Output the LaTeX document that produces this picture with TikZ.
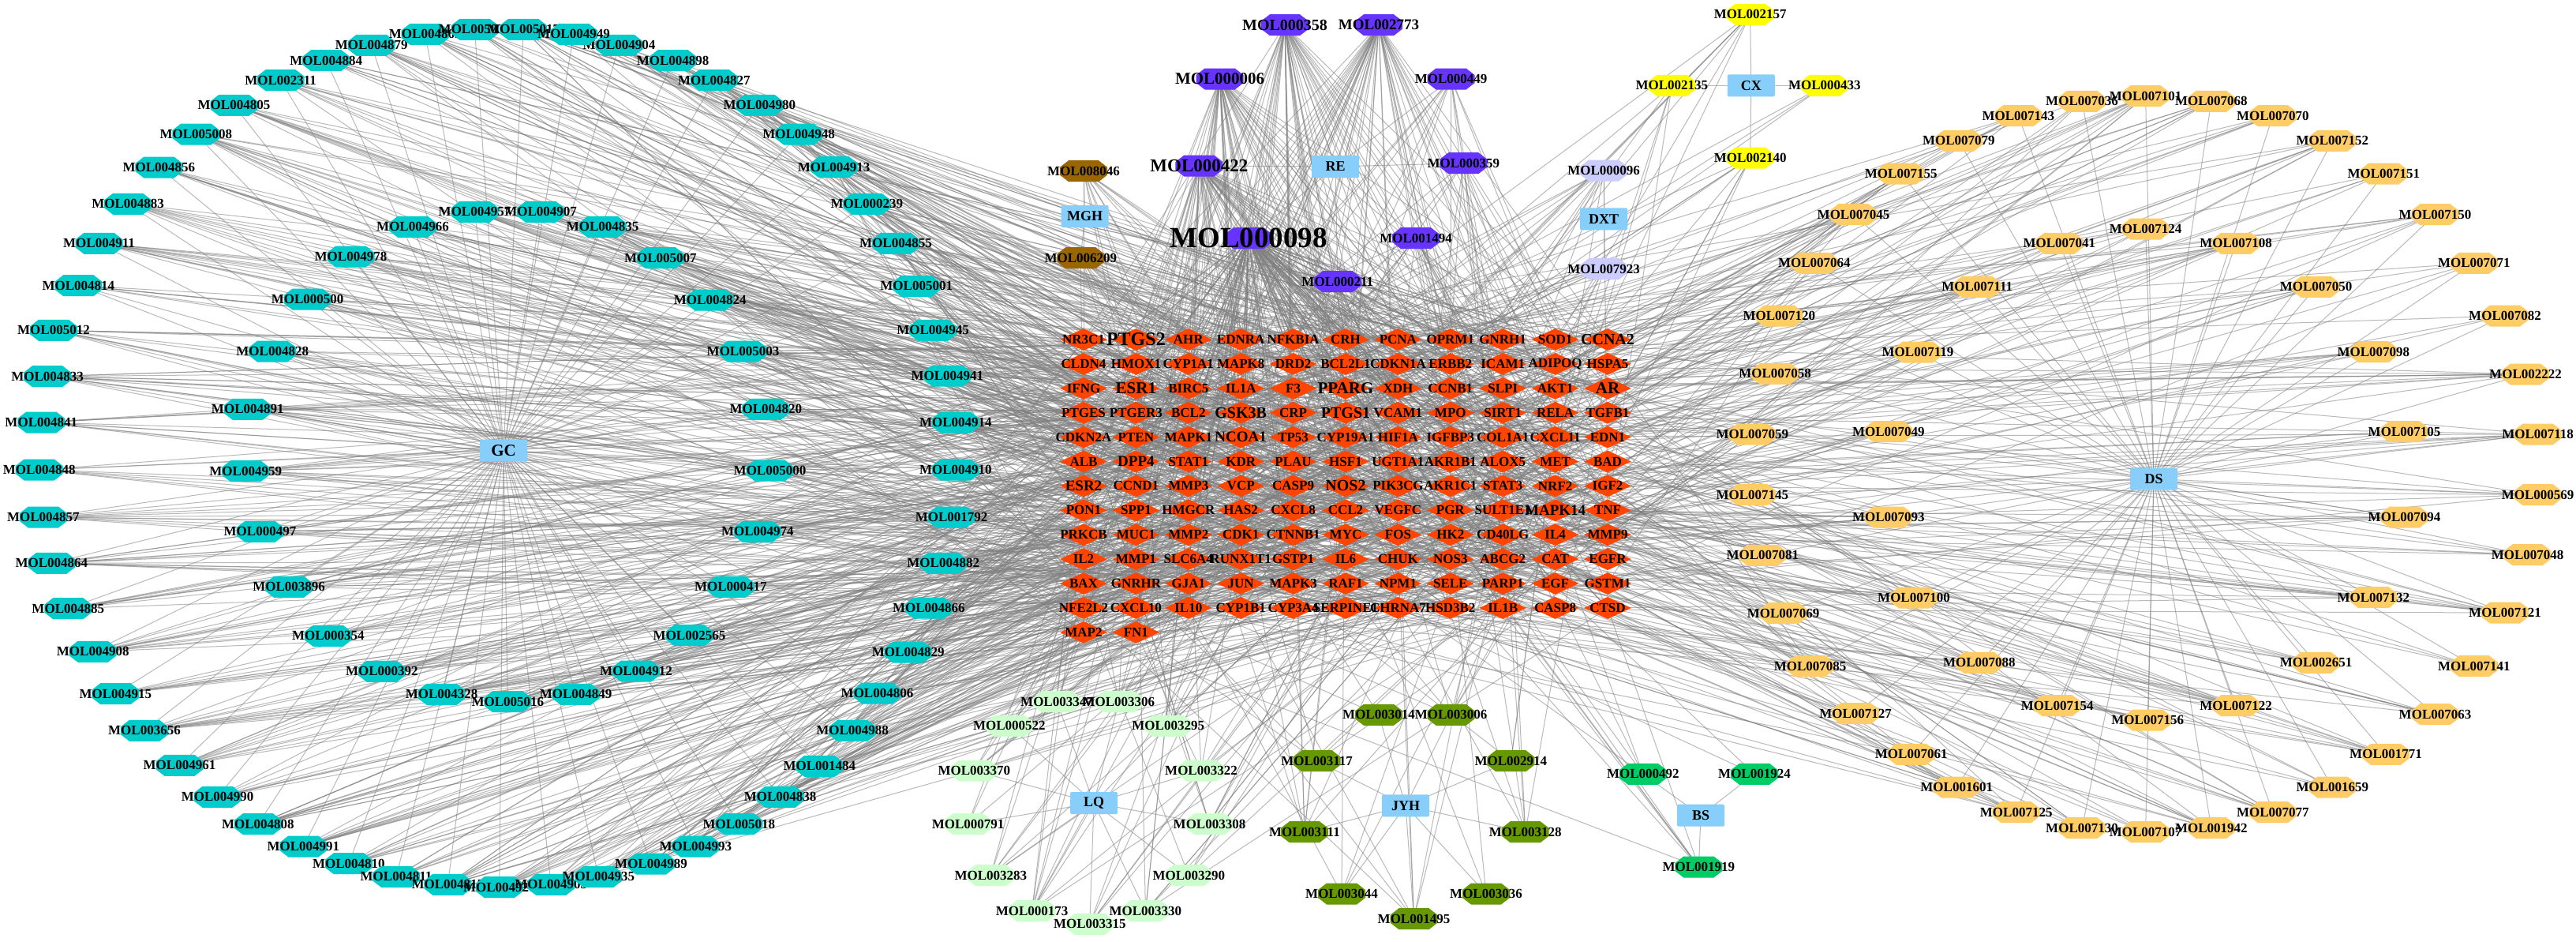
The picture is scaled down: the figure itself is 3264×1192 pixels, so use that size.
\documentclass[tikz,border=0pt]{standalone}
\usepackage{fontspec}
\setmainfont{Liberation Serif}
\usepackage{intcalc}
\usetikzlibrary{shapes.geometric}
\pgfdeclarelayer{bg}
\pgfdeclarelayer{wires}
\pgfsetlayers{bg,wires,main}
\definecolor{cyc}{RGB}{0,204,204}
\definecolor{puc}{RGB}{102,51,255}
\definecolor{brc}{RGB}{153,102,0}
\definecolor{yec}{RGB}{255,255,0}
\definecolor{lvc}{RGB}{204,204,255}
\definecolor{orc}{RGB}{255,204,102}
\definecolor{lgc}{RGB}{204,255,204}
\definecolor{olc}{RGB}{102,153,0}
\definecolor{gnc}{RGB}{0,204,102}
\definecolor{bxc}{RGB}{135,206,250}
\definecolor{dmc}{RGB}{255,69,0}
\definecolor{wgc}{RGB}{128,128,128}
\tikzset{
  lnk/.style={draw=wgc, line width=1, opacity=0.55},
  molshape/.style={rectangle, minimum width=60, minimum height=27, inner sep=0},
  mollab/.style={inner sep=0, text=black},
  herb/.style={rectangle, fill=bxc, rounded corners=2, minimum width=60, minimum height=28, inner sep=0, font=\fontsize{18}{18}\selectfont\bfseries},
  tgt/.style={diamond, fill=dmc, minimum width=60, minimum height=28, inner sep=0},
  tlab/.style={inner sep=0, text=black}
}
\newcommand\mo[5][17]{%
  \fill[#5] ({#3-30},{#4-5}) -- ({#3-19},{#4-13.5}) -- ({#3+19},{#4-13.5}) -- ({#3+30},{#4-5})
    -- ({#3+30},{#4+5}) -- ({#3+19},{#4+13.5}) -- ({#3-19},{#4+13.5}) -- ({#3-30},{#4+5}) -- cycle;
  \node[molshape] (#2) at (#3,#4) {};
  \node[mollab, font=\fontsize{#1}{#1}\selectfont\bfseries] (#2-l) at (#3,#4) {#2};
}
\newcommand\wire[3]{%
  \edef\wlist{#1}%
  \foreach \m [count=\n] in \wlist {%
    \edef\k{\number\numexpr #2+\intcalcMod{\number\numexpr\n*5+#3\relax}{7}\relax}%
    \foreach \i in {1,...,\k} {%
      \edef\r{\intcalcMod{\number\numexpr \n*97+\i*\i*13+\i*\n*7+\i*41+#3*31\relax}{134}}%
      \draw[lnk] (\m.center) -- (t\r.center);
    }%
  }%
}
\def\Tlist{NR3C1/17,PTGS2/24,AHR/17,EDNRA/17,NFKBIA/17,CRH/17,PCNA/17,OPRM1/17,GNRH1/17,SOD1/17,CCNA2/20,
CLDN4/17,HMOX1/17,CYP1A1/17,MAPK8/17,DRD2/17,BCL2L1/17,CDKN1A/17,ERBB2/17,ICAM1/17,ADIPOQ/17,HSPA5/17,
IFNG/17,ESR1/21,BIRC5/17,IL1A/17,F3/17,PPARG/21,XDH/17,CCNB1/17,SLPI/17,AKT1/17,AR/21,
PTGES/17,PTGER3/17,BCL2/17,GSK3B/20,CRP/17,PTGS1/20,VCAM1/17,MPO/17,SIRT1/17,RELA/17,TGFB1/17,
CDKN2A/17,PTEN/17,MAPK1/17,NCOA1/19,TP53/17,CYP19A1/17,HIF1A/17,IGFBP3/17,COL1A1/17,CXCL11/17,EDN1/17,
ALB/17,DPP4/19,STAT1/17,KDR/17,PLAU/17,HSF1/17,UGT1A1/17,AKR1B1/17,ALOX5/17,MET/17,BAD/17,
ESR2/19,CCND1/17,MMP3/17,VCP/17,CASP9/17,NOS2/20,PIK3CG/17,AKR1C1/17,STAT3/17,NRF2/17,IGF2/17,
PON1/17,SPP1/17,HMGCR/17,HAS2/17,CXCL8/17,CCL2/17,VEGFC/17,PGR/17,SULT1E1/17,MAPK14/19,TNF/17,
PRKCB/17,MUC1/17,MMP2/17,CDK1/17,CTNNB1/17,MYC/17,FOS/17,HK2/17,CD40LG/17,IL4/17,MMP9/17,
IL2/17,MMP1/17,SLC6A4/17,RUNX1T1/17,GSTP1/17,IL6/17,CHUK/17,NOS3/17,ABCG2/17,CAT/17,EGFR/17,
BAX/17,GNRHR/17,GJA1/17,JUN/17,MAPK3/17,RAF1/17,NPM1/17,SELE/17,PARP1/17,EGF/17,GSTM1/17,
NFE2L2/17,CXCL10/17,IL10/17,CYP1B1/17,CYP3A4/17,SERPINE1/17,CHRNA7/17,HSD3B2/17,IL1B/17,CASP8/17,CTSD/17,
MAP2/17,FN1/17}
\def\GClist{MOL004814,MOL004911,MOL004883,MOL004856,MOL005008,MOL004805,MOL002311,MOL004884,MOL004879,MOL004865,MOL005030,MOL005017,MOL004904,MOL004949,MOL004898,MOL004827,MOL004980,MOL004948,MOL004913,MOL000239,MOL004855,MOL005001,MOL004957,MOL004907,MOL004966,MOL004835,MOL004978,MOL000500,MOL005007,MOL004824,MOL005012,MOL004828,MOL004833,MOL004891,MOL004841,MOL004848,MOL004959,MOL004857,MOL000497,MOL004864,MOL003896,MOL004885,MOL000354,MOL004908,MOL000392,MOL004915,MOL004328,MOL005016,MOL004849,MOL004912,MOL003656,MOL004961,MOL004990,MOL004808,MOL004991,MOL004810,MOL004811,MOL004815,MOL004920,MOL004903,MOL004935,MOL004989,MOL004993,MOL005018,MOL004838,MOL001484,MOL004988,MOL004806,MOL004829,MOL002565,MOL004945,MOL005003,MOL004941,MOL004820,MOL004914,MOL005000,MOL004910,MOL001792,MOL004974,MOL004882,MOL000417,MOL004866}
\def\DSlist{MOL007143,MOL007036,MOL007101,MOL007068,MOL007070,MOL007079,MOL007152,MOL007155,MOL007151,MOL007045,MOL007150,MOL007124,MOL007041,MOL007108,MOL007064,MOL007071,MOL007111,MOL007050,MOL007120,MOL007082,MOL007119,MOL007098,MOL007058,MOL002222,MOL007059,MOL007049,MOL007105,MOL007118,MOL000569,MOL007145,MOL007093,MOL007094,MOL007048,MOL007081,MOL007100,MOL007132,MOL007069,MOL007121,MOL007088,MOL002651,MOL007141,MOL007085,MOL007154,MOL007156,MOL007122,MOL007063,MOL007127,MOL007061,MOL001771,MOL001601,MOL001659,MOL007125,MOL007077,MOL007130,MOL007107,MOL001942}
\def\LQlist{MOL003347,MOL003306,MOL000522,MOL003295,MOL003370,MOL003322,MOL000791,MOL003308,MOL003283,MOL003290,MOL000173,MOL003330,MOL003315}
\def\JYHlist{MOL003014,MOL003006,MOL003117,MOL002914,MOL003111,MOL003128,MOL003044,MOL003036,MOL001495}
\def\BSlist{MOL000492,MOL001924,MOL001919}
\def\CXlist{MOL002157,MOL002135,MOL000433,MOL002140}
\def\DXTlist{MOL000096,MOL007923}
\def\MGHlist{MOL008046,MOL006209}
\def\RElist{MOL000006,MOL000422,MOL000098,MOL000358,MOL002773,MOL000449,MOL000359,MOL001494,MOL000211}
\def\REsmall{MOL000449,MOL000359,MOL001494,MOL000211}
\begin{document}
\begin{tikzpicture}[x=1pt,y=-1pt]
\begin{pgfonlayer}{bg}
\fill[white] (0,0) rectangle (3264,1192);
\end{pgfonlayer}
\useasboundingbox (0,0) rectangle (3264,1192);
% targets
\foreach \nm/\sz [count=\ti from 0] in \Tlist {
  \pgfmathtruncatemacro\row{floor(\ti/11)}
  \pgfmathtruncatemacro\col{\ti-11*\row}
  \node[tgt] (t\ti) at ({1373+66.4*\col},{430+30.9*\row}) {};
}
\foreach \nm/\sz [count=\ti from 0] in \Tlist {
  \node[tlab, font=\fontsize{\sz}{\sz}\selectfont\bfseries] (t\ti-l) at (t\ti) {\nm};
}
% herb boxes
\node[herb, font=\fontsize{21}{21}\selectfont\bfseries] (GC) at (638,570.7) {GC};
\node[herb] (MGH) at (1374.6,274) {MGH};
\node[herb] (RE) at (1692.1,211) {RE};
\node[herb] (DXT) at (2032.1,277.3) {DXT};
\node[herb] (CX) at (2218.8,108.3) {CX};
\node[herb] (DS) at (2729,606.7) {DS};
\node[herb] (LQ) at (1386,1017) {LQ};
\node[herb] (JYH) at (1781,1020.3) {JYH};
\node[herb] (BS) at (2155,1032.7) {BS};
% GC compounds
\mo{MOL004814}{99.4}{361.7}{cyc}
\mo{MOL004911}{125.5}{308.3}{cyc}
\mo{MOL004883}{162.1}{258.3}{cyc}
\mo{MOL004856}{201.4}{212}{cyc}
\mo{MOL005008}{248.4}{170}{cyc}
\mo{MOL004805}{296.5}{133.3}{cyc}
\mo{MOL002311}{355.6}{101.7}{cyc}
\mo{MOL004884}{413.2}{76.7}{cyc}
\mo{MOL004879}{470.7}{57.3}{cyc}
\mo{MOL004865}{538.7}{43.3}{cyc}
\mo{MOL005030}{601.5}{37.3}{cyc}
\mo{MOL005017}{663.2}{37.3}{cyc}
\mo{MOL004904}{784.5}{57.3}{cyc}
\mo{MOL004949}{727}{43.3}{cyc}
\mo{MOL004898}{852.6}{76.7}{cyc}
\mo{MOL004827}{904.9}{101.7}{cyc}
\mo{MOL004980}{962.4}{133.3}{cyc}
\mo{MOL004948}{1012.1}{170}{cyc}
\mo{MOL004913}{1056.6}{211.7}{cyc}
\mo{MOL000239}{1098.4}{258.3}{cyc}
\mo{MOL004855}{1135}{308.3}{cyc}
\mo{MOL005001}{1161.2}{362.3}{cyc}
\mo{MOL004957}{601.5}{268.3}{cyc}
\mo{MOL004907}{685.1}{268.3}{cyc}
\mo{MOL004966}{523}{287.3}{cyc}
\mo{MOL004835}{763.6}{287.3}{cyc}
\mo{MOL004978}{444.5}{325}{cyc}
\mo{MOL000500}{389.6}{379}{cyc}
\mo{MOL005007}{836.9}{326.7}{cyc}
\mo{MOL004824}{899.7}{380}{cyc}
\mo{MOL005012}{68}{418.3}{cyc}
\mo{MOL004828}{345.2}{445}{cyc}
\mo{MOL004833}{60.1}{476.7}{cyc}
\mo{MOL004891}{313.8}{518.3}{cyc}
\mo{MOL004841}{52.3}{535}{cyc}
\mo{MOL004848}{49.7}{595}{cyc}
\mo{MOL004959}{311.2}{596.7}{cyc}
\mo{MOL004857}{54.9}{655}{cyc}
\mo{MOL000497}{329.5}{673.3}{cyc}
\mo{MOL004864}{65.4}{713.3}{cyc}
\mo{MOL003896}{366.1}{743.3}{cyc}
\mo{MOL004885}{86.3}{770.7}{cyc}
\mo{MOL000354}{415.8}{805.3}{cyc}
\mo{MOL004908}{117.7}{825.3}{cyc}
\mo{MOL000392}{483.8}{850.3}{cyc}
\mo{MOL004915}{146.4}{878.7}{cyc}
\mo{MOL004328}{559.6}{879.3}{cyc}
\mo{MOL005016}{643.3}{888.7}{cyc}
\mo{MOL004849}{729.6}{879.3}{cyc}
\mo{MOL004912}{806}{850}{cyc}
\mo{MOL003656}{183}{925.3}{cyc}
\mo{MOL004961}{227.5}{969.3}{cyc}
\mo{MOL004990}{275.6}{1009.3}{cyc}
\mo{MOL004808}{326.9}{1043.7}{cyc}
\mo{MOL004991}{384.4}{1072}{cyc}
\mo{MOL004810}{441.9}{1093.7}{cyc}
\mo{MOL004811}{502}{1110.3}{cyc}
\mo{MOL004815}{567.4}{1120.3}{cyc}
\mo{MOL004920}{632.8}{1123.7}{cyc}
\mo{MOL004903}{698.2}{1120.3}{cyc}
\mo{MOL004935}{758.4}{1110.3}{cyc}
\mo{MOL004989}{825}{1094}{cyc}
\mo{MOL004993}{881.4}{1072}{cyc}
\mo{MOL005018}{936.3}{1043.7}{cyc}
\mo{MOL004838}{988.6}{1009.3}{cyc}
\mo{MOL001484}{1038.3}{970.3}{cyc}
\mo{MOL004988}{1080.1}{925.3}{cyc}
\mo{MOL004806}{1111.5}{878}{cyc}
\mo{MOL004829}{1150.7}{826}{cyc}
\mo{MOL002565}{873.5}{804.7}{cyc}
\mo{MOL004945}{1182.1}{418.3}{cyc}
\mo{MOL005003}{941.5}{445}{cyc}
\mo{MOL004941}{1200.4}{476}{cyc}
\mo{MOL004820}{970.3}{518.3}{cyc}
\mo{MOL004914}{1210.9}{535}{cyc}
\mo{MOL005000}{975.5}{596}{cyc}
\mo{MOL004910}{1210.9}{595}{cyc}
\mo{MOL001792}{1205.6}{655}{cyc}
\mo{MOL004974}{959.8}{673.3}{cyc}
\mo{MOL004882}{1195.2}{713.3}{cyc}
\mo{MOL000417}{925.8}{743.3}{cyc}
\mo{MOL004866}{1176.9}{770}{cyc}
% MGH, RE
\mo{MOL008046}{1373}{216.7}{brc}
\mo{MOL006209}{1369.3}{326.7}{brc}
\mo[21]{MOL000006}{1545.6}{100}{puc}
\mo[23]{MOL000422}{1519.4}{210}{puc}
\mo[20]{MOL000358}{1628}{31.7}{puc}
\mo[19]{MOL002773}{1747}{31.7}{puc}
\mo{MOL000449}{1838.6}{100}{puc}
\mo{MOL000359}{1854.3}{206.7}{puc}
\mo{MOL001494}{1794.1}{301.7}{puc}
\mo{MOL000211}{1694.8}{356.7}{puc}
\mo[37]{MOL000098}{1582}{301.7}{puc}
% CX, DXT
\mo{MOL002157}{2217.7}{18.3}{yec}
\mo{MOL002135}{2118.4}{108.3}{yec}
\mo{MOL000433}{2311.9}{108.3}{yec}
\mo{MOL002140}{2217.7}{200}{yec}
\mo{MOL000096}{2032.1}{216}{lvc}
\mo{MOL007923}{2032.1}{340.7}{lvc}
% DS
\mo{MOL007143}{2557.3}{146.7}{orc}
\mo{MOL007036}{2638}{128.3}{orc}
\mo{MOL007068}{2801.9}{128.3}{orc}
\mo{MOL007101}{2718.6}{121.7}{orc}
\mo{MOL007070}{2879.9}{146.7}{orc}
\mo{MOL007079}{2481.8}{178.3}{orc}
\mo{MOL007152}{2955.4}{178.3}{orc}
\mo{MOL007155}{2408.7}{220}{orc}
\mo{MOL007151}{3020.4}{220}{orc}
\mo{MOL007045}{2348.5}{271.7}{orc}
\mo{MOL007150}{3085.5}{271.7}{orc}
\mo{MOL007124}{2718.6}{290}{orc}
\mo{MOL007041}{2609.3}{308.3}{orc}
\mo{MOL007108}{2833.1}{308.3}{orc}
\mo{MOL007064}{2298.8}{333.3}{orc}
\mo{MOL007071}{3134.9}{333.3}{orc}
\mo{MOL007111}{2505.2}{363.3}{orc}
\mo{MOL007050}{2934.6}{363.3}{orc}
\mo{MOL007120}{2254.4}{400}{orc}
\mo{MOL007082}{3174}{400}{orc}
\mo{MOL007119}{2430}{446}{orc}
\mo{MOL007098}{3007.4}{445.7}{orc}
\mo{MOL007058}{2249.1}{473.3}{orc}
\mo{MOL002222}{3200}{474}{orc}
\mo{MOL007059}{2220.4}{550}{orc}
\mo{MOL007049}{2392.9}{546.7}{orc}
\mo{MOL007105}{3046.5}{546.7}{orc}
\mo{MOL007118}{3215.6}{550}{orc}
\mo{MOL000569}{3215.6}{626.7}{orc}
\mo{MOL007145}{2220.4}{626.7}{orc}
\mo{MOL007093}{2392.9}{655}{orc}
\mo{MOL007094}{3046.5}{655}{orc}
\mo{MOL007048}{3202.6}{702.7}{orc}
\mo{MOL007081}{2233.4}{703.3}{orc}
\mo{MOL007100}{2425}{757}{orc}
\mo{MOL007132}{3007.4}{756.7}{orc}
\mo{MOL007069}{2259.6}{776.7}{orc}
\mo{MOL007121}{3174}{776}{orc}
\mo{MOL007088}{2507.8}{839.3}{orc}
\mo{MOL002651}{2934.6}{839.3}{orc}
\mo{MOL007141}{3134.9}{843.7}{orc}
\mo{MOL007085}{2293.6}{843.7}{orc}
\mo{MOL007154}{2606.7}{893.7}{orc}
\mo{MOL007156}{2721.2}{912}{orc}
\mo{MOL007122}{2833.1}{893.7}{orc}
\mo{MOL007063}{3085.5}{904.7}{orc}
\mo{MOL007127}{2351.1}{903.7}{orc}
\mo{MOL007061}{2421.7}{955.3}{orc}
\mo{MOL001771}{3023}{955.3}{orc}
\mo{MOL001601}{2479.2}{997}{orc}
\mo{MOL001659}{2955.4}{997}{orc}
\mo{MOL007125}{2554.7}{1028.7}{orc}
\mo{MOL007077}{2879.9}{1028.7}{orc}
\mo{MOL007130}{2638}{1048.7}{orc}
\mo{MOL007107}{2718.6}{1053.7}{orc}
\mo{MOL001942}{2801.9}{1048.7}{orc}
% LQ
\mo{MOL003347}{1339}{888.7}{lgc}
\mo{MOL003306}{1417.4}{888.7}{lgc}
\mo{MOL000522}{1278.9}{919.3}{lgc}
\mo{MOL003295}{1480.2}{919.3}{lgc}
\mo{MOL003370}{1234.4}{976}{lgc}
\mo{MOL003322}{1522}{976}{lgc}
\mo{MOL000791}{1226.6}{1043.7}{lgc}
\mo{MOL003308}{1532.5}{1043.7}{lgc}
\mo{MOL003283}{1255.3}{1108.7}{lgc}
\mo{MOL003290}{1506.3}{1108.7}{lgc}
\mo{MOL000173}{1307.6}{1153.7}{lgc}
\mo{MOL003330}{1451.4}{1153.7}{lgc}
\mo{MOL003315}{1380.8}{1170.3}{lgc}
% JYH
\mo{MOL003014}{1747}{905.3}{olc}
\mo{MOL003006}{1838.6}{905.3}{olc}
\mo{MOL003117}{1668.6}{963.7}{olc}
\mo{MOL002914}{1914.4}{963.7}{olc}
\mo{MOL003111}{1652.9}{1053.7}{olc}
\mo{MOL003128}{1932.7}{1053.7}{olc}
\mo{MOL003044}{1700}{1132}{olc}
\mo{MOL003036}{1883}{1132}{olc}
\mo{MOL001495}{1791.5}{1163.7}{olc}
% BS
\mo{MOL000492}{2081.8}{980.3}{gnc}
\mo{MOL001924}{2223}{980.3}{gnc}
\mo{MOL001919}{2152.4}{1098}{gnc}
% wires
\begin{pgfonlayer}{wires}
\foreach \m in \GClist {\draw[lnk] (GC.center) -- (\m.center);}
\foreach \m in \DSlist {\draw[lnk] (DS.center) -- (\m.center);}
\foreach \m in \LQlist {\draw[lnk] (LQ.center) -- (\m.center);}
\foreach \m in \JYHlist {\draw[lnk] (JYH.center) -- (\m.center);}
\foreach \m in \BSlist {\draw[lnk] (BS.center) -- (\m.center);}
\foreach \m in \CXlist {\draw[lnk] (CX.center) -- (\m.center);}
\foreach \m in \DXTlist {\draw[lnk] (DXT.center) -- (\m.center);}
\foreach \m in \MGHlist {\draw[lnk] (MGH.center) -- (\m.center);}
\foreach \m in \RElist {\draw[lnk] (RE.center) -- (\m.center);}
\wire{\GClist}{7}{2}
\wire{\DSlist}{3}{5}
\wire{\LQlist}{3}{7}
\wire{\JYHlist}{2}{9}
\wire{\BSlist}{2}{11}
\wire{\CXlist}{3}{13}
\wire{\DXTlist}{5}{15}
\wire{\MGHlist}{12}{17}
\wire{\REsmall}{9}{19}
\wire{MOL000098}{110}{21}
\wire{MOL000006}{45}{23}
\wire{MOL000422}{50}{25}
\wire{MOL000358}{40}{27}
\wire{MOL002773}{40}{29}
\end{pgfonlayer}
\end{tikzpicture}
\end{document}
